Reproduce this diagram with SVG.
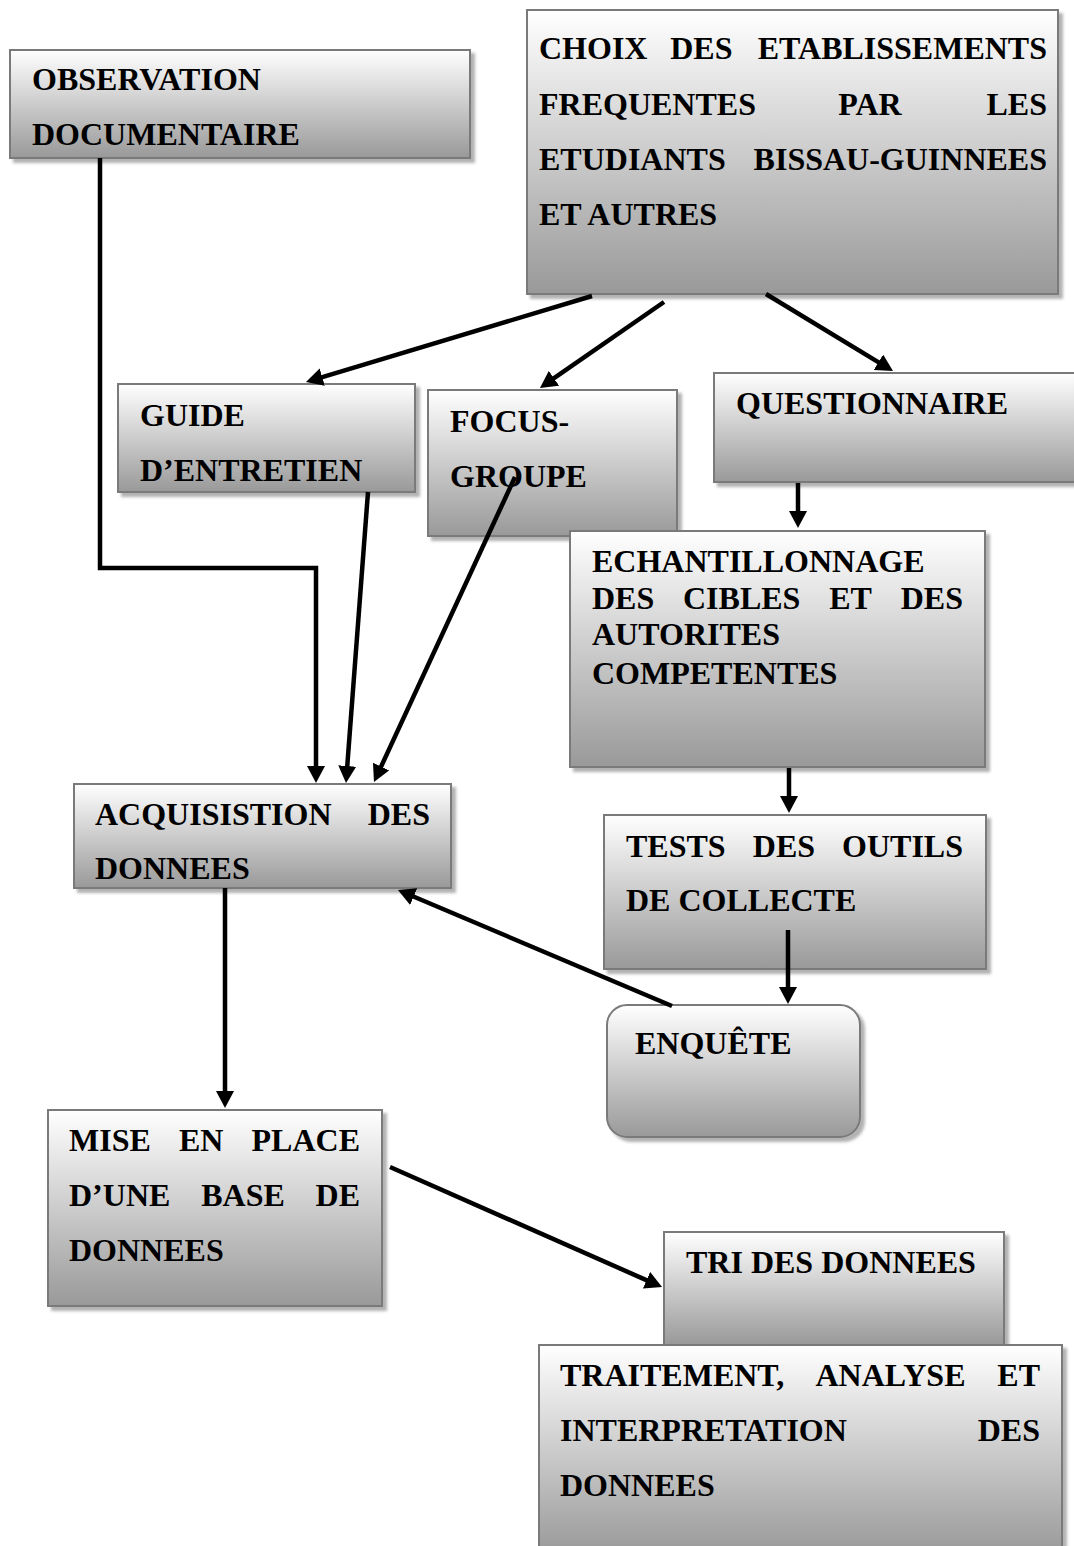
<svg xmlns="http://www.w3.org/2000/svg" width="1074" height="1546" viewBox="0 0 1074 1546">
<style>
.box{fill:url(#g);stroke:#7a7a7a;stroke-width:2;filter:url(#sh)}
.t{font-family:"Liberation Serif","Times New Roman",serif;font-weight:bold;font-size:32px;fill:#000}
.e{text-anchor:end}
.c{fill:none;stroke:#000;stroke-width:4.5;marker-end:url(#ah)}
</style>
<defs>
<linearGradient id="g" x1="0" y1="0" x2="0" y2="1">
<stop offset="0" stop-color="#ffffff"/>
<stop offset="1" stop-color="#999999"/>
</linearGradient>
<filter id="sh" x="-10%" y="-10%" width="120%" height="130%">
<feDropShadow dx="4" dy="4" stdDeviation="1.5" flood-color="#000" flood-opacity="0.3"/>
</filter>
<marker id="ah" markerUnits="userSpaceOnUse" markerWidth="18" markerHeight="18" refX="6" refY="9" orient="auto">
<path d="M0,0 L17,9 L0,18 Z" fill="#000"/>
</marker>
</defs>
<g id="nodes">
<g id="observation">
<rect class="box" x="10" y="50" width="460" height="108"/>
<text class="t" x="32" y="90">OBSERVATION</text>
<text class="t" x="32" y="145">DOCUMENTAIRE</text>
</g>
<g id="choix">
<rect class="box" x="527" y="10" width="531" height="284"/>
<text class="t" y="59"><tspan x="539">CHOIX</tspan><tspan x="670.2">DES</tspan></text>
<text class="t e" x="1047" y="59">ETABLISSEMENTS</text>
<text class="t" y="115"><tspan x="539">FREQUENTES</tspan><tspan x="838.3">PAR</tspan></text>
<text class="t e" x="1047" y="115">LES</text>
<text class="t" x="539" y="170">ETUDIANTS</text>
<text class="t e" x="1047" y="170">BISSAU-GUINNEES</text>
<text class="t" x="539" y="225">ET AUTRES</text>
</g>
<g id="guide">
<rect class="box" x="118" y="384" width="297" height="108"/>
<text class="t" x="140" y="426">GUIDE</text>
<text class="t" x="140" y="481">D’ENTRETIEN</text>
</g>
<g id="focus">
<rect class="box" x="428" y="390" width="249" height="146"/>
<text class="t" x="450" y="432">FOCUS-</text>
<text class="t" x="450" y="487">GROUPE</text>
</g>
<g id="questionnaire">
<rect class="box" x="714" y="373" width="362" height="109"/>
<text class="t" x="736" y="414">QUESTIONNAIRE</text>
</g>
<g id="echantillonnage">
<rect class="box" x="570" y="531" width="415" height="236"/>
<text class="t" x="592" y="572">ECHANTILLONNAGE</text>
<text class="t" y="609"><tspan x="592">DES</tspan><tspan x="683">CIBLES</tspan><tspan x="829.2">ET</tspan></text>
<text class="t e" x="963" y="609">DES</text>
<text class="t" x="592" y="645">AUTORITES</text>
<text class="t" x="592" y="684">COMPETENTES</text>
</g>
<g id="acquisition">
<rect class="box" x="74" y="784" width="377" height="104"/>
<text class="t" x="95" y="825">ACQUISISTION</text>
<text class="t e" x="430" y="825">DES</text>
<text class="t" x="95" y="879">DONNEES</text>
</g>
<g id="tests">
<rect class="box" x="604" y="815" width="382" height="154"/>
<text class="t" y="857"><tspan x="626">TESTS</tspan><tspan x="752.8">DES</tspan></text>
<text class="t e" x="963" y="857">OUTILS</text>
<text class="t" x="626" y="911">DE COLLECTE</text>
</g>
<g id="enquete">
<rect class="box" x="607" y="1005" width="253" height="132" rx="20" ry="20"/>
<text class="t" x="635" y="1054">ENQUÊTE</text>
</g>
<g id="mise">
<rect class="box" x="48" y="1110" width="334" height="196"/>
<text class="t" y="1151"><tspan x="69">MISE</tspan><tspan x="179">EN</tspan></text>
<text class="t e" x="360" y="1151">PLACE</text>
<text class="t" y="1206"><tspan x="69">D’UNE</tspan><tspan x="201.2">BASE</tspan></text>
<text class="t e" x="360" y="1206">DE</text>
<text class="t" x="69" y="1261">DONNEES</text>
</g>
<g id="tri">
<rect class="box" x="664" y="1232" width="340" height="113"/>
<text class="t" x="686" y="1273">TRI DES DONNEES</text>
</g>
<g id="traitement">
<rect class="box" x="539" y="1345" width="523" height="210"/>
<text class="t" y="1386"><tspan x="560">TRAITEMENT,</tspan><tspan x="815.5">ANALYSE</tspan></text>
<text class="t e" x="1040" y="1386">ET</text>
<text class="t" x="560" y="1441">INTERPRETATION</text>
<text class="t e" x="1040" y="1441">DES</text>
<text class="t" x="560" y="1496">DONNEES</text>
</g>
</g>
<g id="connectors">
<polyline class="c" points="100,158 100,568 316,568 316,772"/>
<line class="c" x1="368" y1="492" x2="346.8" y2="772"/>
<line class="c" x1="515" y1="477" x2="378.6" y2="772"/>
<line class="c" x1="592" y1="296" x2="316.5" y2="378.8"/>
<line class="c" x1="664" y1="302" x2="549" y2="381.7"/>
<line class="c" x1="766" y1="294" x2="883.6" y2="365.3"/>
<line class="c" x1="798" y1="483" x2="798" y2="517"/>
<line class="c" x1="789" y1="768" x2="789" y2="802"/>
<line class="c" x1="788" y1="930" x2="788" y2="993"/>
<line class="c" x1="672" y1="1006" x2="408.1" y2="894.3"/>
<line class="c" x1="225" y1="888" x2="225" y2="1097"/>
<line class="c" x1="390" y1="1167" x2="652" y2="1282.6"/>
</g>
</svg>
